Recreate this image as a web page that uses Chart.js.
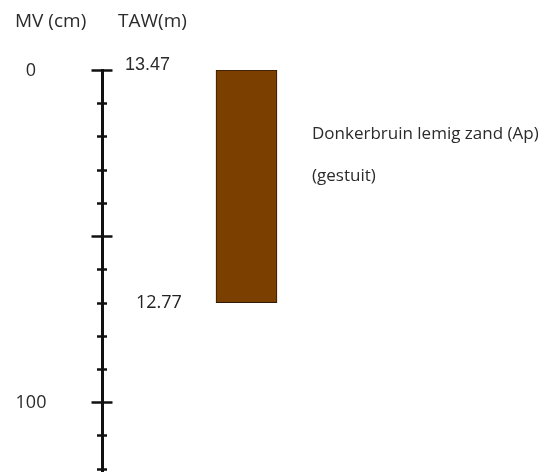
<!DOCTYPE html>
<html><head><meta charset="utf-8">
<script src="https://cdn.jsdelivr.net/npm/chart.js@4"></script>
<style>html,body{margin:0;padding:0;background:#fff}#c{display:block}</style>
</head><body>
<canvas id="c" width="552" height="472"></canvas>
<script>
// ---- data ----
const layers = ['Ap'];
const layerTop = [0];          // depth below MV (cm)
const layerBottom = [70];      // depth below MV (cm)
const layerColors = ['#7b3f00'];
const layerDescriptions = [['Donkerbruin lemig zand (Ap)', '(gestuit)']];
const depthTicks = [0, 10, 20, 30, 40, 50, 60, 70, 80, 90, 100, 110, 120];
const majorDepthTicks = [0, 50, 100];
const depthLabelValues = [0, 100];
const depthLabels = ['0', '100'];
const tawDepths = [0, 70];
const tawLabels = ['13.47', '12.77'];
const headers = ['MV (cm)', 'TAW(m)'];

const textColor = '#2b2b2b';

const profilePlugin = {
  id: 'profile',
  afterDraw(chart) {
    const ctx = chart.ctx;
    const y = chart.scales.y;
    const axisX = y.right;
    ctx.save();
    // tick marks crossing the axis
    ctx.strokeStyle = '#111';
    ctx.lineWidth = 2.5;
    depthTicks.forEach(v => {
      const py = Math.round(y.getPixelForValue(v)) + 0.5;
      const half = majorDepthTicks.includes(v) ? 10.5 : 5;
      ctx.beginPath();
      ctx.moveTo(axisX - half, py);
      ctx.lineTo(axisX + half, py);
      ctx.stroke();
    });
    ctx.fillStyle = textColor;
    ctx.textBaseline = 'middle';
    // headers
    ctx.font = '19px "Open Sans"';
    ctx.textAlign = 'left';
    ctx.fillText(headers[0], 15, 22);
    ctx.fillText(headers[1], 118, 22);
    // depth labels
    ctx.font = '18px "Open Sans"';
    ctx.textAlign = 'center';
    depthLabelValues.forEach((v, i) => {
      ctx.fillText(depthLabels[i], 31, y.getPixelForValue(v) + 1);
    });
    // TAW labels
    ctx.textAlign = 'left';
    ctx.font = '18px "Liberation Sans"';
    ctx.fillText(tawLabels[0], 125, y.getPixelForValue(tawDepths[0]) - 5);
    ctx.fillStyle = '#222';
    ctx.font = '18px "Open Sans"';
    ctx.fillText(tawLabels[1], 136, y.getPixelForValue(tawDepths[1]));
    // descriptions
    ctx.fillStyle = textColor;
    const meta = chart.getDatasetMeta(0);
    ctx.font = '17px "Open Sans"';
    meta.data.forEach((bar, i) => {
      const x0 = bar.x + bar.width / 2 + 35;
      const top = y.getPixelForValue(layerTop[i]);
      layerDescriptions[i].forEach((t, j) => {
        ctx.fillText(t, x0, top + 64 + j * 42);
      });
    });
    ctx.restore();
  }
};

new Chart(document.getElementById('c'), {
  type: 'bar',
  data: {
    labels: layers,
    datasets: [{
      data: layers.map((_, i) => [layerTop[i], layerBottom[i]]),
      backgroundColor: layerColors,
      borderColor: '#2e1a08',
      borderWidth: 1,
      borderSkipped: false,
      barThickness: 61
    }]
  },
  options: {
    responsive: false,
    animation: false,
    layout: { padding: { top: 70, left: 0, right: 161, bottom: 0 } },
    plugins: { legend: { display: false }, tooltip: { enabled: false } },
    scales: {
      x: { display: false },
      y: {
        reverse: true, min: 0, max: 121,
        afterFit(s) { s.width = 102; },
        ticks: { display: false },
        grid: { display: false },
        border: { display: true, color: '#111', width: 3 }
      }
    }
  },
  plugins: [profilePlugin]
});
</script>
</body></html>
